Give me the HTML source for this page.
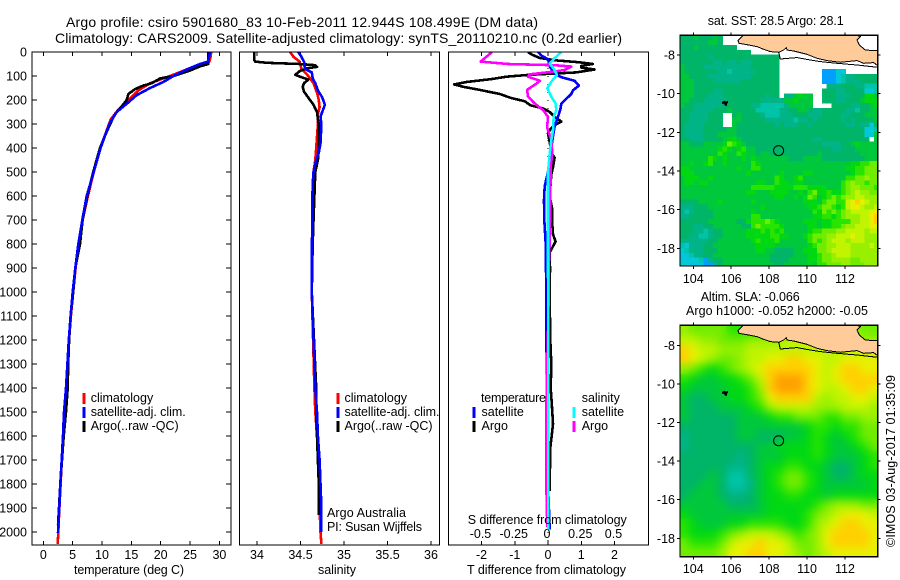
<!DOCTYPE html>
<html lang="en">
<head>
<meta charset="utf-8">
<title>Argo profile csiro 5901680_83</title>
<style>
html,body{margin:0;padding:0;background:#fff;width:900px;height:580px;overflow:hidden}
svg{display:block}
text{font-family:"Liberation Sans",sans-serif;font-size:12.5px;fill:#000}
.title{font-size:14px}
.curve{fill:none;stroke-width:2.6;stroke-linejoin:round;shape-rendering:crispEdges}
.frame{fill:none;stroke:#000;stroke-width:1.4;shape-rendering:crispEdges}
.tick{stroke:#000;stroke-width:1;shape-rendering:crispEdges}
.bar{stroke-width:3;shape-rendering:crispEdges}
.coast{fill:#ffcc99;stroke:#000;stroke-width:1;shape-rendering:crispEdges}
.coast2{fill:none;stroke:#000;stroke-width:1;shape-rendering:crispEdges}
</style>
</head>
<body>
<svg id="fig" xmlns="http://www.w3.org/2000/svg" width="900" height="580" viewBox="0 0 900 580">
  <defs>
    <clipPath id="clipT"><rect x="32" y="52" width="199" height="493"/></clipPath>
    <clipPath id="clipS"><rect x="239.5" y="52" width="200" height="493"/></clipPath>
    <clipPath id="clipD"><rect x="448.5" y="52" width="200" height="493"/></clipPath>
    <clipPath id="clipM1"><rect x="680" y="35.3" width="197.7" height="230.7"/></clipPath>
    <clipPath id="clipM2"><rect x="680" y="325.3" width="197.7" height="231.4"/></clipPath>
    <filter id="smooth" x="-10%" y="-10%" width="120%" height="120%" color-interpolation-filters="sRGB"><feGaussianBlur stdDeviation="4.5"/></filter>
  </defs>

  <text class="title" x="66" y="27" textLength="472" lengthAdjust="spacing">Argo profile: csiro 5901680_83 10-Feb-2011 12.944S 108.499E (DM data)</text>
  <text class="title" x="55" y="43" textLength="567" lengthAdjust="spacing">Climatology: CARS2009. Satellite-adjusted climatology: synTS_20110210.nc (0.2d earlier)</text>

  <g id="tempPanel"></g>
  <g id="salPanel"></g>
  <g id="diffPanel"></g>

  <rect class="frame" x="32" y="52" width="199" height="493"/>
  <rect class="frame" x="239.5" y="52" width="200" height="493"/>
  <rect class="frame" x="448.5" y="52" width="200" height="493"/>

  <text x="74" y="574" textLength="110">temperature (deg C)</text>
  <text x="318" y="574" textLength="38">salinity</text>
  <text x="467" y="574" textLength="159">T difference from climatology</text>
  <text x="467.7" y="524" textLength="159">S difference from climatology</text>

  <g id="tempLegend">
    <line class="bar" x1="84" x2="84" y1="393" y2="404" stroke="#f00"/>
    <line class="bar" x1="84" x2="84" y1="407" y2="418" stroke="#00f"/>
    <line class="bar" x1="84" x2="84" y1="421" y2="432" stroke="#000"/>
    <text x="90.7" y="402">climatology</text>
    <text x="90.7" y="416" textLength="95">satellite-adj. clim.</text>
    <text x="90.7" y="430" textLength="88">Argo(..raw -QC)</text>
  </g>
  <g>
    <line class="bar" x1="338" x2="338" y1="393" y2="404" stroke="#f00"/>
    <line class="bar" x1="338" x2="338" y1="407" y2="418" stroke="#00f"/>
    <line class="bar" x1="338" x2="338" y1="421" y2="432" stroke="#000"/>
    <text x="344.5" y="402">climatology</text>
    <text x="344.5" y="416" textLength="95">satellite-adj. clim.</text>
    <text x="344.5" y="430" textLength="88">Argo(..raw -QC)</text>
    <text x="327" y="517" textLength="79">Argo Australia</text>
    <text x="327" y="531" textLength="95">PI: Susan Wijffels</text>
  </g>
  <g id="diffLegend">
    <line class="bar" x1="474" x2="474" y1="407" y2="418" stroke="#00f"/>
    <line class="bar" x1="474" x2="474" y1="421" y2="432" stroke="#000"/>
    <line class="bar" x1="574" x2="574" y1="407" y2="418" stroke="#0ff"/>
    <line class="bar" x1="574" x2="574" y1="421" y2="432" stroke="#f0f"/>
    <text x="481" y="402" textLength="65">temperature</text>
    <text x="581.7" y="402">salinity</text>
    <text x="481.5" y="416">satellite</text>
    <text x="481.5" y="430">Argo</text>
    <text x="581.7" y="416">satellite</text>
    <text x="581.7" y="430">Argo</text>
  </g>

  <text x="707.7" y="25" textLength="136">sat. SST: 28.5 Argo: 28.1</text>
  <text x="700.7" y="301" textLength="99">Altim. SLA: -0.066</text>
  <text x="686" y="315" textLength="182">Argo h1000: -0.052 h2000: -0.05</text>

  <g id="map1">
    <g id="map1cells" clip-path="url(#clipM1)"></g>
    <g transform="translate(680,35.3)">
      <polygon class="coast" points="63,0 60.3,3 58,5.3 59,8 68.7,9.7 77,11.3 83.7,14 90.3,16.3 98.7,17 103.7,14.7 106.3,12.3 107,14.7 113.7,15.7 127,19 137,23 147,25.3 160.3,27 177,25.3 183.7,28 193.7,27.3 197.7,30.3 197.7,15.3 193.7,15.3 185.3,14.7 179.3,9.7 177,4.7 180.3,1.3 177,0"/>
      <polyline class="coast2" points="98.7,17 100.3,23.7 117,22.3 130.3,24.7 140.3,26.3 157,28 177,29.7 197.7,32"/>
      <path d="M42,66.5l3,-1l1,1l2,-1l0,2l-1,1l0,2l-2,0l-1,-2l-2,0z" fill="#000"/>
    </g>
  </g>
  <g id="map2">
    <g id="map2base" clip-path="url(#clipM2)"></g>
    <g clip-path="url(#clipM2)"><g id="map2cells" filter="url(#smooth)"></g></g>
    <g transform="translate(680,325.3)">
      <polygon class="coast" points="63,0 60.3,3 58,5.3 59,8 68.7,9.7 77,11.3 83.7,14 90.3,16.3 98.7,17 103.7,14.7 106.3,12.3 107,14.7 113.7,15.7 127,19 137,23 147,25.3 160.3,27 177,25.3 183.7,28 193.7,27.3 197.7,30.3 197.7,15.3 193.7,15.3 185.3,14.7 179.3,9.7 177,4.7 180.3,1.3 177,0"/>
      <polyline class="coast2" points="98.7,17 100.3,23.7 117,22.3 130.3,24.7 140.3,26.3 157,28 177,29.7 197.7,32"/>
      <path d="M42,66.5l3,-1l1,1l2,-1l0,2l-1,1l0,2l-2,0l-1,-2l-2,0z" fill="#000"/>
    </g>
  </g>
  <rect class="frame" x="680" y="35.3" width="197.7" height="230.7"/>
  <rect class="frame" x="680" y="325.3" width="197.7" height="231.4"/>

  <text transform="translate(895,547) rotate(-90)" textLength="172">©IMOS 03-Aug-2017 01:35:09</text>
</svg>

<script>
// ---- profile data (depth in dbar) ----
const tempClimDepths = [0,20,40,50,70,100,130,160,200,240,280,320,400,500,600,700,800,900,1000,1100,1200,1300,1400,1500,1600,1700,1800,1900,2000,2050];
const tempClimValues = [28.6,28.5,28.3,27.6,24.7,21.6,18.2,16.2,14.5,12.8,11.5,10.9,9.7,8.6,7.6,6.7,6.0,5.5,5.1,4.7,4.4,4.15,3.9,3.6,3.4,3.15,2.95,2.75,2.55,2.45];
const tempArgoDepths = [0,50,60,80,100,110,130,140,155,175,200,225,260,300,350,400,500,600,700,800,900,1000,1100,1200,1300,1400,1500,1600,1700,1800,1900,1970];
const tempArgoValues = [28.1,28.1,26.7,24.7,22.2,19.9,18.5,17,15.6,14.5,14.2,13.4,12.2,11.4,10.5,9.66,8.5,7.5,6.7,6.25,5.45,5.1,4.65,4.4,4.25,4.15,3.87,3.47,3.19,2.9,2.67,2.5];
const tempSatDepths = [0,40,50,70,100,125,150,180,210,250,300,350,400,500,600,700,800,900,1000,1100,1200,1300,1400,1500,1600,1700,1800,1900,1950,2005];
const tempSatValues = [28.4,28.07,26.7,24.7,22.16,20.45,18.2,15.9,14.5,12.5,11.25,10.5,9.77,8.58,7.39,6.65,5.97,5.45,5.0,4.65,4.35,4.1,3.87,3.53,3.36,3.13,2.9,2.73,2.6,2.5];

const salClimDepths = [0,20,40,70,100,130,170,200,230,260,300,400,450,500,600,800,1000,1400,1500,1600,1700,1800,1900,2000,2050];
const salClimValues = [34.38,34.42,34.49,34.51,34.59,34.65,34.69,34.71,34.72,34.70,34.70,34.68,34.67,34.65,34.64,34.635,34.63,34.66,34.67,34.69,34.70,34.71,34.72,34.73,34.74];
const salArgoDepths = [0,35,40,45,50,55,62,68,80,95,105,115,130,145,165,190,220,250,280,300,400,450,500,600,700,800,900,1000,1400,1500,1600,1700,1800,1930];
const salArgoValues = [33.97,33.97,33.98,34.11,34.49,34.67,34.69,34.57,34.49,34.44,34.51,34.59,34.54,34.525,34.54,34.59,34.65,34.69,34.70,34.71,34.71,34.70,34.67,34.66,34.65,34.64,34.635,34.63,34.68,34.68,34.69,34.70,34.71,34.71];
const salSatDepths = [0,20,40,70,85,110,130,160,190,220,240,270,300,380,420,450,500,550,650,1000,1400,1500,1600,1700,1800,1900,2000];
const salSatValues = [34.475,34.51,34.54,34.55,34.63,34.64,34.67,34.70,34.75,34.78,34.76,34.73,34.74,34.73,34.71,34.68,34.65,34.64,34.635,34.63,34.67,34.69,34.70,34.72,34.73,34.74,34.74];

const diffArgoTDepths = [0,10,25,35,43,50,58,65,73,85,95,103,113,125,135,145,158,175,192,205,222,235,250,270,290,305,325,340,375,420,440,480,510,600,650,700,760,790,815,835,900,1033,1200,1300,1400,1480,1550,1650,1800,1830];
const diffArgoTValues = [-0.6,-0.5,-0.25,0.25,0.95,1.35,1,1,1.4,0.85,-0.55,-1.25,-1.7,-2.45,-2.82,-2.55,-2.05,-1.45,-1.1,-0.7,-0.53,-0.15,0.05,0.2,0.4,0.2,0.05,0,0.05,0.1,0.2,0.15,0.1,0.05,0.12,0.12,0.15,0.23,0.13,0.05,0.06,0.05,0.07,0.1,0.08,0.12,0.15,0.07,0.05,0.05];
const diffSatTDepths = [0,15,30,60,90,105,120,140,160,175,195,215,240,270,310,350,400,500,530,560,617,700,800,1000,1400,1500,1800,1990];
const diffSatTValues = [-0.3,-0.2,0,0.05,0.2,0.4,0.8,0.93,0.75,0.7,0.55,0.4,0.37,0.3,0.2,0.15,0.1,0,-0.05,-0.1,-0.12,-0.11,-0.07,-0.05,-0.04,0,0,0.05];
const diffArgoSDepths = [0,40,50,55,61,75,82,93,103,120,133,158,186,214,242,270,314,367,422,478,700,800,900,1100,1480,1800,1980];
const diffArgoSValues = [-0.42,-0.507,-0.3,0.05,0.175,0.125,0.04,-0.137,-0.15,-0.06,-0.09,-0.157,-0.15,-0.1,-0.037,0,-0.007,0.025,0.032,0.02,0.015,0.012,0.005,0.003,-0.0125,-0.0125,-0.005];
const diffSatSDepths = [0,26,47,75,96,124,151,186,214,242,270,326,367,422,505,700,1990];
const diffSatSValues = [0.1,0.05,0.0125,0.05,0.067,0.025,-0.005,0.025,0.057,0.0625,0.0425,0.0375,0.025,0.0125,0,0,0.002];

// ---- tick labels ----
const depthTicks = [0,100,200,300,400,500,600,700,800,900,1000,1100,1200,1300,1400,1500,1600,1700,1800,1900,2000];
const tempTicks = [0,5,10,15,20,25,30];
const salTicks = [34,34.5,35,35.5,36];
const diffTTicks = [-2,-1,0,1,2];
const diffSTicks = [-0.5,-0.25,0,0.25,0.5];
const lonTicks = [104,106,108,110,112];
const latTicks = [-8,-10,-12,-14,-16,-18];
const argoLon = 108.499;
const argoLat = -12.944;

// ---- heatmap values: one letter per cell, '.' = no data ----
const colourLevels = {A:'#00a0ff',B:'#00c8d8',C:'#00c4a8',D:'#00b488',E:'#00b468',F:'#00c83c',G:'#00d814',H:'#28e400',I:'#70ec00',J:'#98f000',K:'#c0f400',L:'#e8f000',M:'#ffd000',N:'#ffa000'};
const sstCells = [
"EEEFEEEFE.................................",
"EEEEEEFFE.................................",
"EEEFEEEEEEEE..............................",
"EEEEEEEEEEEEEEE...........................",
"EEEEEEDEEEEEEEEEEEEEE.....................",
"EEEEEEEDDEDDEDDEEEEEE.....................",
"FEEEEDDDDDDDDDDEEEEEE.....................",
"FEEEEEEEDDCDDDDDEEEEE.........AAABB.......",
"FFEEEEDDDDDDDDDEEEEEE.........AAABCDDEEEEE",
"FFFEEEEDDDDDDEEEEEEEE.........AAABCDDDEEEE",
"FFFEEEEEEEEEEEEEEEEEE..........DDDEEEDDCCC",
"FFFEEEEDDEEEEEEEEEEEE.........EEEDDEEEEBBC",
"FFFEEEDDDEEEEEEEEEDEE.DDFGFF..EEEDDDEEEGGF",
"FFEEEDDDDDEEEEEEEDDDDDFFGFFF..EEEDDEEEFGGG",
"FEEDDDDDDEEEEEEDDCCCCCDFFFFF....EEEEDDEEFG",
"EEEDDDDEEEFEEEEECCCCCDDEEFFEDDEEEEEDDCEEFF",
"EEDDDDEEE..EFEEEEDCCCDDDEEEDDDEEEEDDEEEFFF",
"EEDDDDEEE..FFEEEEEDDDDDDCDDEDEEEEEDEDEEEEF",
"EDDDDEEEE..FEEEEEEEEDEDDDEEDEEEEEEEDDEDDBE",
"EDDDDEEEEEFFEEEEEEEEEEEEEEEEEEEEEEEEEEEBBC",
"EDDDDEEEFFFFEEEEEEEEEEEEEEEEEEEEEEEEEEEBBF",
"EEDDDEEEEFGGFEEEEEEEEEEEEEEEDDEEEEEEEEEE.F",
"FFEEEFFFFGIHGFEEEEEEEEEEEEEEEEDDDDEEFGFFFF",
"FFFFFFFFGHGFGHFFEEEEEEEEEEEEEEEEDDEEEFFFFF",
"FFFFFFFFHGFFHGFFEFFEEEEEEEEEEFEEEEEEEEFFFF",
"FFFFFFHGFGFFFGFGFFFFFFFEEEFFFFEEEEEEEEEFFF",
"FFGFFGHFFGFFFFFHGFFFFFFFFFFFFFFFFFFFGGHHII",
"GGFFFFFFFFFFGFFHHFFFFFFFFFFFFFFFFFFGGHHIII",
"GGGFFFFFFFFFFFGFFFFFFGFFFFGGFFFFFFFFGHHIII",
"FGGGFFGFFFFFFFFFFFFFHGFFGHFFFFFFFFFHHIIJII",
"FGGFGGFFFFFFFFFFGGFFHGGFGGFFFFFFFFHIJIIHII",
"FFFFFFFFFFFFFFFHHHHHGGGGHHHGGGGFFFHIJJIIIH",
"FFFFFFFFFFFFFFGGFFFGGGGFFGFHIGGHGGHIJKJJII",
"FFFFFFFFFFFFFFFFFFFFGGFFGFGIHFGHIHIJJKKJJJ",
"EEEEFFFFGFFFFFFGFFFFFFFFFFGGGFHIIHHKLMLKJJ",
"DDDEEEFFFFFFFFFFFGFFFFFFFFFGGHIIHGHKLLKJJK",
"DCDEEEEFFFFFFFFGFFFFFFFFFFFFHGIHIHIJKKKKLL",
"DDEEEEEFFFFFFFFHHFFFFFFFFFFFGGHHGHIJJJKKLM",
"EEEEEEFFFFFFEEGHHHIHGFFFFFGGGFGGHHHHJJKKLM",
"EEEDDEEFFFFFFEEHIHHHHGFFFFFGGFGGHHIJJKKKLL",
"EEEDDCDEEFFFFFGGGHGHGHFFFFFGHHIIIJJKKKKJKK",
"EEDDCCDEEFFFFFGGGGGHHGGFFFGHIIIJJKKKLKKJJJ",
"DDDDDDEEFFFFFFFGHGGGHFFFFFFHIHIJKKKJKKKJJJ",
"CBDDDEEFFFFFFFFFGGGGFFFFFFFGHIIJJKKKJJJJKJ",
"BCDDDEEEFFFFFFFFGGFFEEEEFFGGGIIJKKKKJJJJJJ",
"BBCDDEEFFFFFFFFFFFFEEEEEFFFGGHIIJKKKJJJJJJ",
"BBBBCADEEFFFFFFFFFFEEEEFFFFGGHIIJJJJIIJJJJ",
"BBBBBAADEFFFFFFFFFFFEEFFFFFGFHHIIIJJIIIJJJ"
];
const slaCells = [
"JIIIIHHHHIIJJJJJJJJII",
"KKJJIIIJJJJKKKKKKKJJJ",
"MLKKJJJKKKKKKKKKKKKKK",
"MLKJIIJKKLLMMLLKKLLLL",
"JIHGHIJKLMMMMMLKLMMLL",
"HGFFGGHIKMNNNMLKLMMMM",
"GFFFFGGHJMNNNMLKKLMML",
"FEEFFGGHILMMMMKJKKLLK",
"FEEEFFFGHJKKKKJJJKKKJ",
"FEEEEEFFFGHHIIIHHIIJJ",
"EEEEEEFFFFFFFGHHGHHII",
"DEEEEEFFEEEFFGHGFGHII",
"DEEEEEEEFFGGGGHGFFGHI",
"EEEEEEDEFFFGGGHGFFFGH",
"EEEEEDDEFGGHHGGFEEFGH",
"EEEFECCEFGHIIHGFEEFGG",
"EEFFECCDFGHIIHGFFFFFG",
"EFFFEDDEFGGHHGGFGGGGG",
"FFFFFEEEFGGGGGHIJJJII",
"GFFFFFFFFGGGGHIJKLLLK",
"HGFFFGGHHHHGGHJKLMMLL",
"HGGGHIJKKKJIHIJLMMMML",
"IHHHIKLLMLLKIIJLMMMML",
"IIIIJLLMMLLKJIJKLLLLL"
];

// ---- axis functions ----
const yDepth = d => 52 + d * 0.24;
const xTemp = t => 43.3 + t * 5.87;
const xSal = s => 257 + (s - 34) * 87;
const xDiffT = v => 548 + v * 33.25;
const xDiffS = v => 548 + v * 133;
const xLon = lon => 693.3 + (lon - 104) * 18.96;
const yLat1 = lat => 55 + (-8 - lat) * 19.33;
const yLat2 = lat => 345.3 + (-8 - lat) * 19.3;

const NS = 'http://www.w3.org/2000/svg';

function addTick(parent, x1, y1, x2, y2, name) {
  const el = document.createElementNS(NS, 'line');
  el.setAttribute('class', 'tick');
  el.setAttribute('x1', x1);
  el.setAttribute('y1', y1);
  el.setAttribute('x2', x2);
  el.setAttribute('y2', y2);
  
  
  parent.appendChild(el);
}
function addLabel(parent, x, y, str, anchor, name) {
  const el = document.createElementNS(NS, 'text');
  el.setAttribute('x', x);
  el.setAttribute('y', y);
  el.setAttribute('text-anchor', anchor);
  el.textContent = str;
  
  
  parent.appendChild(el);
}
function addCurve(parent, depths, values, xf, colour, clip, name) {
  const el = document.createElementNS(NS, 'polyline');
  el.setAttribute('class', 'curve');
  el.setAttribute('stroke', colour);
  el.setAttribute('clip-path', 'url(#' + clip + ')');
  el.setAttribute('points', depths.map((d, i) => xf(values[i]).toFixed(1) + ',' + yDepth(d).toFixed(1)).join(' '));
  
  
  parent.appendChild(el);
}

// temperature panel
const tempG = document.getElementById('tempPanel');
depthTicks.forEach(d => {
  addTick(tempG, 32, yDepth(d), 37, yDepth(d), 'depth-tick-left');
  addTick(tempG, 226, yDepth(d), 231, yDepth(d), 'depth-tick-right');
  addLabel(tempG, 27, yDepth(d) + 4.5, String(d), 'end', 'depth-tick-label');
});
tempTicks.forEach(t => {
  addTick(tempG, xTemp(t), 52, xTemp(t), 56, 'temperature-tick-top');
  addTick(tempG, xTemp(t), 541, xTemp(t), 545, 'temperature-tick-bottom');
  addLabel(tempG, xTemp(t), 559, String(t), 'middle', 'temperature-tick-label');
});
addCurve(tempG, tempClimDepths, tempClimValues, xTemp, '#f00', 'clipT', 'temperature-climatology-line');
addCurve(tempG, tempArgoDepths, tempArgoValues, xTemp, '#000', 'clipT', 'temperature-argo-line');
addCurve(tempG, tempSatDepths, tempSatValues, xTemp, '#00f', 'clipT', 'temperature-satellite-line');

// salinity panel
const salG = document.getElementById('salPanel');
salTicks.forEach(s => {
  addTick(salG, xSal(s), 52, xSal(s), 56, 'salinity-tick-top');
  addTick(salG, xSal(s), 541, xSal(s), 545, 'salinity-tick-bottom');
  addLabel(salG, xSal(s), 559, String(s), 'middle', 'salinity-tick-label');
});
addCurve(salG, salClimDepths, salClimValues, xSal, '#f00', 'clipS', 'salinity-climatology-line');
addCurve(salG, salArgoDepths, salArgoValues, xSal, '#000', 'clipS', 'salinity-argo-line');
addCurve(salG, salSatDepths, salSatValues, xSal, '#00f', 'clipS', 'salinity-satellite-line');

// difference panel
const diffG = document.getElementById('diffPanel');
diffTTicks.forEach(v => {
  addTick(diffG, xDiffT(v), 52, xDiffT(v), 56, 't-difference-tick-top');
  addTick(diffG, xDiffT(v), 541, xDiffT(v), 545, 't-difference-tick-bottom');
  addLabel(diffG, xDiffT(v), 559, String(v), 'middle', 't-difference-tick-label');
});
diffSTicks.forEach(v => {
  addLabel(diffG, xDiffS(v) - 1, 538, String(v), 'middle', 's-difference-tick-label');
});
const zeroLine = document.createElementNS(NS, 'line');
zeroLine.setAttribute('x1', xDiffT(0));
zeroLine.setAttribute('x2', xDiffT(0));
zeroLine.setAttribute('y1', 52);
zeroLine.setAttribute('y2', 545);
zeroLine.setAttribute('stroke', '#000');
zeroLine.setAttribute('stroke-dasharray', '1 7');


diffG.appendChild(zeroLine);
addCurve(diffG, diffArgoTDepths, diffArgoTValues, xDiffT, '#000', 'clipD', 'temperature-argo-difference-line');
addCurve(diffG, diffSatTDepths, diffSatTValues, xDiffT, '#00f', 'clipD', 'temperature-satellite-difference-line');
addCurve(diffG, diffArgoSDepths, diffArgoSValues, xDiffS, '#f0f', 'clipD', 'salinity-argo-difference-line');
addCurve(diffG, diffSatSDepths, diffSatSValues, xDiffS, '#0ff', 'clipD', 'salinity-satellite-difference-line');

// maps
const lonOrigin = 103.283;
const latOrigin = -6.98;
function drawCells(parent, rows, step, yLat, name) {
  rows.forEach((row, r) => {
    for (let c = 0; c < row.length; c++) {
      const colour = colourLevels[row[c]];
      if (!colour) continue;
      const el = document.createElementNS(NS, 'rect');
      const x0 = xLon(lonOrigin + c * step);
      const y0 = yLat(latOrigin - r * step);
      el.setAttribute('x', x0.toFixed(2));
      el.setAttribute('y', y0.toFixed(2));
      el.setAttribute('width', (step * 18.96 + 0.4).toFixed(2));
      el.setAttribute('height', (step * 19.33 + 0.4).toFixed(2));
      el.setAttribute('fill', colour);
      el.setAttribute('shape-rendering', 'crispEdges');
      
      
      parent.appendChild(el);
    }
  });
}
drawCells(document.getElementById('map1cells'), sstCells, 0.25, yLat1, 'sst-cell');
drawCells(document.getElementById('map2base'), slaCells, 0.5, yLat2, 'sla-base-cell');
drawCells(document.getElementById('map2cells'), slaCells, 0.5, yLat2, 'sla-cell');

function drawMapAxes(parent, yLat, top, bottom, labelY, prefix) {
  lonTicks.forEach(lon => {
    addTick(parent, xLon(lon), top - 3, xLon(lon), top, prefix + '-lon-tick-top');
    addTick(parent, xLon(lon), bottom, xLon(lon), bottom + 3, prefix + '-lon-tick-bottom');
    addLabel(parent, xLon(lon), labelY, String(lon), 'middle', prefix + '-lon-tick-label');
  });
  latTicks.forEach(lat => {
    addTick(parent, 677, yLat(lat), 680, yLat(lat), prefix + '-lat-tick-left');
    addTick(parent, 877.7, yLat(lat), 880.7, yLat(lat), prefix + '-lat-tick-right');
    addLabel(parent, 675, yLat(lat) + 4.5, String(lat), 'end', prefix + '-lat-tick-label');
  });
  const ring = document.createElementNS(NS, 'circle');
  ring.setAttribute('cx', xLon(argoLon));
  ring.setAttribute('cy', yLat(argoLat));
  ring.setAttribute('r', 5);
  ring.setAttribute('fill', 'none');
  ring.setAttribute('stroke', '#000');
  
  
  parent.appendChild(ring);
}
drawMapAxes(document.getElementById('map1'), yLat1, 35.3, 266, 283, 'sst');
drawMapAxes(document.getElementById('map2'), yLat2, 325.3, 556.7, 573, 'sla');
</script>
</body>
</html>
